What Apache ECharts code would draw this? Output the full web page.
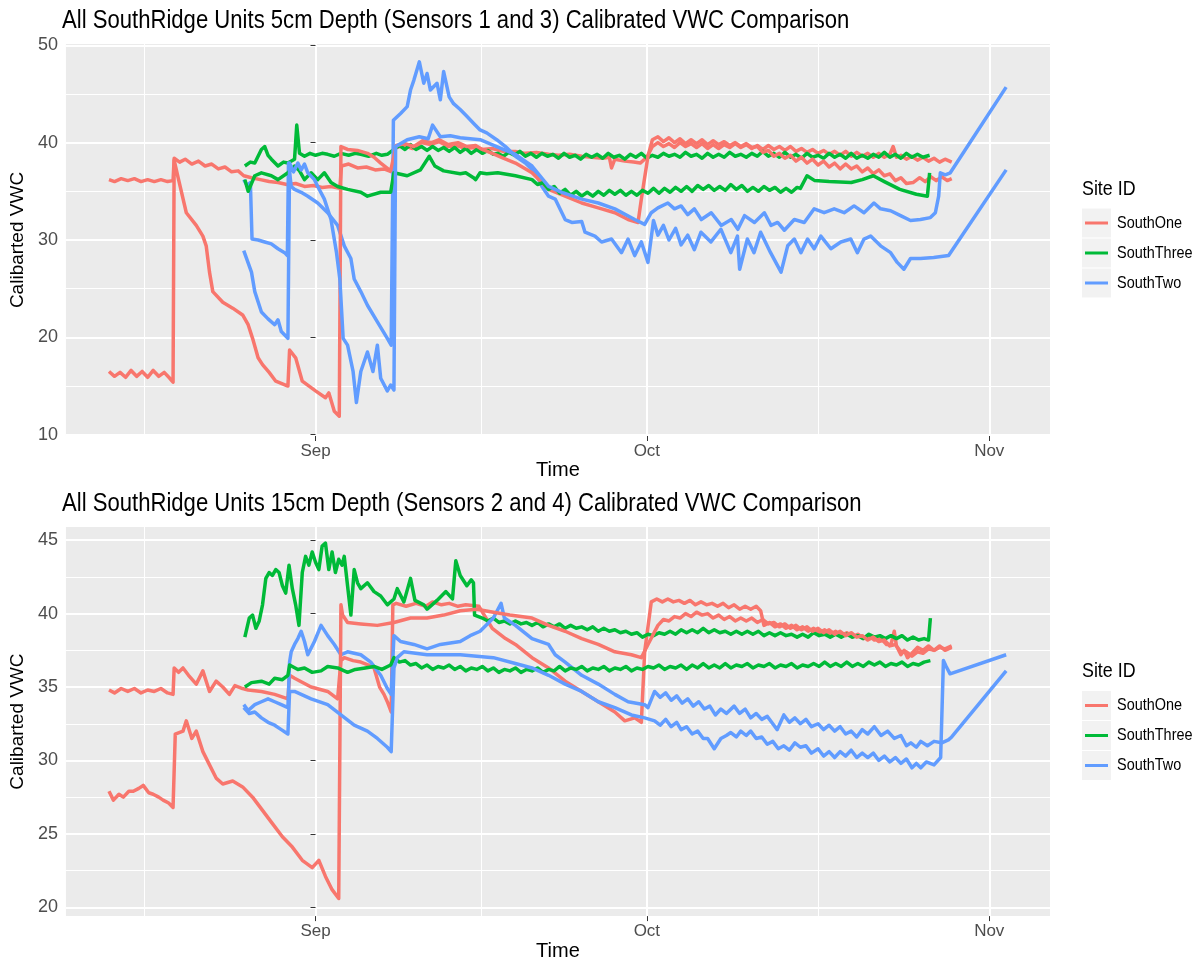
<!DOCTYPE html>
<html>
<head>
<meta charset="utf-8">
<script src="https://cdn.jsdelivr.net/npm/echarts@6/dist/echarts.min.js"></script>
<style>
  html, body { margin: 0; padding: 0; background: #ffffff; }
  #chart { width: 1199px; height: 962px; }
</style>
</head>
<body>
<div id="chart"></div>
<script>
// Calibrated VWC readings for the SouthRidge units.
// Each point is [days since 1 Sep, VWC]; two sensors per site and depth.

// ---- 5 cm depth (sensors 1 and 3) ----
const one5_s1 = [[-18.7,36.2],[-18.2,36.0],[-17.6,36.3],[-17.0,36.1],[-16.4,36.3],[-15.8,36.0],[-15.2,36.2],[-14.6,36.0],[-14.0,36.2],[-13.4,36.0],[-12.9,36.1],
  [-12.8,38.4],[-12.3,38.0],[-11.8,38.3],[-11.2,37.8],[-10.6,38.1],[-10.0,37.6],[-9.4,37.8],[-8.8,37.3],[-8.2,37.5],[-7.6,37.0],[-7.0,37.1],[-6.5,36.6],[-5.8,36.4],[-5.0,36.2],[-4.2,36.0],[-3.4,35.9],[-2.6,35.7],[-1.8,35.8],[-1.0,35.5],[-0.2,35.6],[0.6,35.4],[1.4,35.5],[2.2,35.3],
  [2.35,37.6],[3.0,37.8],[3.8,37.4],[4.6,37.5],[5.4,37.2],[6.2,37.3],[6.9,37.0],
  [7.25,39.5],[8.0,39.7],[8.8,39.4],[9.6,40.0],[10.4,39.8],[11.2,40.1],[12.0,39.6],[12.8,39.7],[13.6,39.4],[14.4,39.5],[15.1,39.3],[16.0,39.4],[17.0,39.1],[18.1,39.1],[19.0,38.9],[20.0,39.0],[21.1,38.8],[22.0,38.7],[23.0,38.8],[24.1,38.6],[25.0,38.5],[26.0,38.4],[26.6,38.5],[26.8,37.4],[27.1,38.3],[28.0,38.1],[28.8,38.0],[29.4,37.9],
  [30.0,38.5],[30.5,39.6],[31.0,40.0],[31.5,39.6],[32.0,39.9],[32.5,39.5],[33.0,40.0],[33.5,39.6],[34.0,39.9],[34.5,39.5],[35.0,39.9],[35.5,39.4],[36.0,39.8],[36.5,39.4],[37.0,39.8],[37.5,39.5],[38.0,39.9],[38.5,39.5],[39.0,39.8],[39.5,39.4],[40.0,39.7],[40.5,39.3],[41.0,39.7],[41.5,39.3],[42.0,39.6],[42.5,39.2],[43.0,39.6],[43.5,39.1],[44.0,39.4],[44.5,39.0],[45.0,39.3],[45.5,38.9],[46.0,39.2],[46.5,38.8],[47.0,39.1],[47.5,38.7],[48.0,39.1],[48.5,38.6],[49.0,39.0],[49.5,38.6],[50.0,38.9],[50.5,38.5],[51.0,38.9],[51.5,38.5],[52.0,38.8],[52.3,39.6],[52.6,38.5],[53.0,38.7],[53.5,38.3],[54.0,38.6],[54.5,38.2],[55.0,38.5],[55.5,38.1],[56.0,38.4],[56.5,38.0],[57.0,38.3],[57.6,38.0]];

const one5_s3 = [[-18.7,16.5],[-18.2,16.0],[-17.7,16.4],[-17.2,15.9],[-16.7,16.6],[-16.2,16.0],[-15.7,16.5],[-15.2,15.9],[-14.7,16.6],[-14.2,16.0],[-13.7,16.4],[-13.2,15.8],[-12.9,15.4],
  [-12.8,38.2],[-12.4,36.2],[-11.7,32.8],[-10.8,31.5],[-10.2,30.4],[-9.9,29.4],[-9.6,26.7],[-9.3,24.7],[-8.4,23.6],[-7.5,23.0],[-6.6,22.3],[-6.1,21.3],[-5.7,19.9],[-5.2,17.9],[-4.8,17.2],[-4.2,16.4],[-3.6,15.5],[-2.5,15.0],[-2.35,18.7],[-1.8,17.9],[-1.2,15.5],[0.0,14.5],[0.9,13.8],[1.2,14.3],[1.7,12.4],[2.15,11.9],
  [2.3,39.6],[2.9,39.3],[3.8,39.2],[4.7,38.9],[5.3,38.5],[5.9,37.9],[6.8,37.1],
  [7.3,39.7],[8.1,39.9],[8.9,39.6],[9.7,40.2],[10.5,40.0],[11.2,40.3],[12.0,39.8],[12.9,40.0],[13.7,39.6],[14.5,39.7],[15.1,39.3],[16.0,38.9],[17.0,38.4],[18.1,37.9],[19.6,36.9],[20.4,36.0],[21.1,35.2],[22.6,34.5],[24.1,33.8],[25.6,33.3],[27.1,32.8],[28.3,32.1],[29.2,31.8],[29.5,34.2],[30.1,38.6],
  [30.5,40.3],[31.0,40.6],[31.5,40.1],[32.0,40.5],[32.5,40.0],[33.0,40.4],[33.5,39.9],[34.0,40.3],[34.5,39.9],[35.0,40.3],[35.5,39.8],[36.0,40.2],[36.5,39.8],[37.0,40.1],[37.5,39.7],[38.0,40.0],[38.5,39.6],[39.0,39.9],[39.5,39.5],[40.0,39.6],[40.5,39.0],[41.0,39.2],[41.5,38.6],[42.0,38.9],[42.5,38.4],[43.0,38.7],[43.5,38.1],[44.0,38.5],[44.5,37.9],[45.0,38.3],[45.5,37.7],[46.0,38.1],[46.5,37.5],[47.0,37.9],[47.5,37.3],[48.0,37.8],[48.5,37.3],[49.0,37.6],[49.5,37.0],[50.0,37.4],[50.5,36.8],[51.0,37.2],[51.5,36.6],[52.0,36.8],[52.5,36.1],[53.0,36.4],[53.5,35.8],[54.1,35.9],[54.7,36.4],[55.2,36.0],[55.7,36.5],[56.2,36.1],[56.7,36.5],[57.2,36.1],[57.6,36.3]];

const three5_s1 = [[-6.4,37.6],[-5.9,38.0],[-5.5,37.9],[-4.9,39.3],[-4.6,39.6],[-4.3,38.7],[-4.0,38.3],[-3.4,37.6],[-2.9,38.0],[-2.5,37.9],[-1.9,38.3],[-1.7,41.8],[-1.45,38.9],[-1.0,38.6],[-0.5,38.9],[0.0,38.7],[0.6,38.9],[1.1,38.8],[1.7,38.6],[2.3,38.9],[3.0,38.7],[3.6,38.9],[4.1,38.8],[4.8,38.6],[5.5,38.9],[6.0,38.7],[6.5,38.8],
  [7.1,39.3],[7.6,39.7],[8.1,39.3],[8.6,39.8],[9.1,39.3],[9.6,39.6],[10.1,39.2],[10.6,39.6],[11.1,39.2],[11.6,39.5],[12.1,39.1],[12.6,39.5],[13.1,39.0],[13.6,39.4],[14.1,38.9],[14.6,39.3],[15.1,38.9],[15.6,39.2],[16.1,38.8],
  [16.5,38.9],[17.0,38.6],[17.5,39.0],[18.0,38.7],[18.5,39.1],[19.0,38.6],[19.5,38.9],[20.0,38.5],[20.5,38.9],[21.0,38.6],[21.5,38.8],[22.0,38.4],[22.5,38.9],[23.0,38.5],[23.5,38.7],[24.0,38.3],[24.5,38.8],[25.0,38.5],[25.5,38.8],[26.0,38.4],[26.5,38.9],[27.0,38.5],[27.5,38.7],[28.0,38.3],[28.5,38.8],[29.0,38.5],[29.5,38.9],[30.0,38.4],[30.5,38.7],[31.0,38.5],[31.5,38.9],[32.0,38.6],[32.5,38.8],[33.0,38.5],[33.5,39.0],[34.0,38.6],[34.5,38.8],[35.0,38.4],[35.5,38.9],[36.0,38.5],[36.5,38.8],[37.0,38.5],[37.5,39.0],[38.0,38.6],[38.5,38.8],[39.0,38.5],[39.5,38.9],[40.0,38.6],[40.5,39.1],[41.0,38.6],[41.5,38.9],[42.0,38.5],[42.5,39.0],[43.0,38.5],[43.5,38.8],[44.0,38.4],[44.5,38.9],[45.0,38.5],[45.5,38.7],[46.0,38.4],[46.5,38.9],[47.0,38.5],[47.5,38.8],[48.0,38.4],[48.5,38.9],[49.0,38.4],[49.5,38.7],[50.0,38.4],[50.5,38.8],[51.0,38.5],[51.5,39.0],[52.0,38.5],[52.5,38.8],[53.0,38.4],[53.5,38.9],[54.0,38.5],[54.5,38.8],[55.0,38.5],[55.6,38.7]];

const three5_s3 = [[-6.4,36.2],[-6.1,35.0],[-5.5,36.6],[-4.9,36.9],[-4.0,36.6],[-3.4,36.2],[-2.5,36.9],[-1.9,37.6],[-1.45,37.1],[-1.0,36.2],[-0.4,36.9],[0.2,36.2],[0.8,36.9],[1.4,35.9],[2.0,35.5],[2.9,35.2],[4.1,34.9],[4.7,34.5],[5.9,34.9],[6.8,34.9],
  [7.1,36.9],[8.3,36.6],[9.5,37.2],[10.3,38.6],[10.8,37.6],[11.6,37.1],[13.1,36.8],[13.6,36.9],[14.3,36.4],[14.5,36.2],[14.9,36.9],[15.5,36.8],[16.5,36.9],[18.1,36.6],
  [19.6,36.2],[20.1,35.7],[20.6,35.9],[21.1,35.2],[21.6,35.5],[22.1,34.8],[22.6,35.2],[23.1,34.6],[23.6,35.0],[24.1,34.5],[24.6,34.9],[25.1,34.5],[25.6,35.0],[26.1,34.6],[26.6,35.1],[27.1,34.7],[27.6,35.1],[28.1,34.6],[28.6,35.0],[29.1,34.6],[29.6,35.1],[30.1,34.8],[30.6,35.3],[31.1,34.8],[31.6,35.3],[32.1,34.9],[32.6,35.4],[33.1,35.0],[33.6,35.5],[34.1,35.0],[34.6,35.6],[35.1,35.2],[35.6,35.6],[36.1,35.1],[36.6,35.5],[37.1,35.1],[37.6,35.7],[38.1,35.2],[38.6,35.6],[39.1,35.0],[39.6,35.4],[40.1,35.0],[40.6,35.5],[41.1,35.1],[41.6,35.4],[42.1,34.9],[42.6,35.3],[43.1,34.9],[43.6,35.4],[43.9,35.3],
  [44.5,36.6],[45.2,36.1],[46.5,36.0],[48.5,35.9],[49.5,36.2],[50.5,36.6],[51.5,36.0],[52.9,35.2],[54.4,34.7],[55.4,34.5],[55.6,36.9]];

const two5_s1 = [[-6.5,36.2],[-6.2,35.6],[-5.9,35.9],[-5.75,30.1],[-5.2,30.0],[-4.6,29.8],[-4.0,29.6],[-3.4,29.1],[-2.8,28.7],[-2.55,28.4],
  [-2.45,37.9],[-2.2,35.5],[-1.9,35.2],[-1.3,34.9],[-0.7,34.5],[0.2,33.8],[1.1,32.8],[2.0,31.5],[2.6,29.4],[3.2,28.1],[3.5,26.0],[4.1,24.7],[4.7,23.3],[5.6,21.6],[6.5,19.9],[6.85,19.2],
  [7.05,42.3],[7.7,43.0],[8.3,43.7],[8.6,45.4],[8.9,46.4],[9.4,48.3],[9.8,46.1],[10.1,47.1],[10.4,45.4],[11.0,46.1],[11.3,44.4],[11.6,47.3],[12.1,44.7],[12.5,44.0],[13.1,43.4],[13.7,42.7],[14.3,42.0],[14.9,41.3],[15.5,41.0],[16.4,40.3],[17.2,39.6],[18.1,38.6],[19.0,37.9],[19.9,36.9],[20.5,35.5],[21.1,34.5],[21.7,34.2],[22.6,32.1],[23.2,31.8],[24.1,31.9],[24.4,30.8],[25.3,30.4],[25.9,29.8],[26.8,30.1],[27.7,28.7],[28.3,30.1],[28.9,28.4],[29.5,29.8],[30.1,27.7],
  [30.6,32.0],[31.0,30.5],[31.5,31.5],[32.0,30.0],[32.6,31.2],[33.1,29.5],[33.7,30.5],[34.3,29.0],[34.9,30.8],[35.8,29.8],[36.7,31.1],[37.6,28.7],[38.2,30.4],[38.4,27.0],[39.1,30.1],[39.7,28.7],[40.3,30.8],[41.2,28.7],[42.15,26.7],[42.75,29.4],[43.35,30.1],[43.95,28.7],[44.55,30.1],[45.15,29.1],[45.75,30.4],[46.66,29.1],[47.56,29.8],[48.46,30.1],[49.06,28.7],[49.66,30.1],[50.26,30.4],[51.16,29.4],[52.07,28.7],[52.67,27.7],[53.27,27.0],[53.87,28.1],[54.77,28.1],[55.97,28.2],[57.32,28.4],[62.53,37.2]];

const two5_s3 = [[-6.5,28.9],[-5.8,26.7],[-5.5,24.7],[-4.9,22.6],[-4.3,21.9],[-3.7,21.3],[-3.4,21.8],[-3.1,20.6],[-2.5,19.9],
  [-2.35,37.9],[-2.0,37.0],[-1.6,37.9],[-1.3,37.2],[-1.0,37.8],[-0.7,36.9],[-0.1,36.2],[0.2,35.5],[0.8,34.2],[1.4,32.1],[1.9,28.7],[2.2,26.0],[2.5,19.9],[2.9,19.2],[3.4,16.5],[3.7,13.3],[4.1,16.5],[4.7,18.5],[5.2,16.5],[5.6,19.2],[5.9,15.8],[6.5,14.5],[6.8,15.1],[7.1,14.6],
  [7.25,39.6],[8.3,40.3],[9.4,40.6],[10.2,40.4],[10.6,41.8],[11.3,40.6],[12.2,40.7],[13.1,40.5],[14.0,40.4],[14.9,40.3],[16.4,39.6],[18.1,38.8],[19.6,37.6],[21.1,35.5],[22.3,34.9],[24.1,34.2],[25.6,33.8],[27.1,33.2],[28.9,32.1],[29.8,31.6],[30.4,32.8],[31.0,33.3],[31.9,33.8],[32.5,33.2],[33.1,33.5],[33.7,32.6],[34.3,33.2],[34.93,32.1],[35.83,32.8],[36.73,31.5],[37.64,32.1],[38.24,31.1],[38.84,32.5],[39.74,31.8],[40.64,32.8],[41.24,31.5],[41.84,31.8],[42.45,31.0],[43.35,32.1],[44.25,31.8],[45.15,33.2],[46.05,32.8],[46.96,33.2],[47.86,32.8],[48.76,33.5],[49.66,32.8],[50.56,33.8],[51.16,33.2],[52.07,33.0],[52.97,32.5],[53.87,32.0],[54.77,32.1],[55.67,32.3],[56.12,32.8],[56.42,34.5],[56.57,36.9],[57.02,36.7],[57.47,36.9],[62.53,45.7]];

// ---- 15 cm depth (sensors 2 and 4) ----
const one15_s2 = [[-18.7,34.8],[-18.2,34.6],[-17.6,34.9],[-17.0,34.7],[-16.4,34.9],[-15.8,34.6],[-15.2,34.8],[-14.6,34.7],[-14.0,34.9],[-13.4,34.6],[-12.9,34.5],
  [-12.8,36.3],[-12.4,36.0],[-12.0,36.3],[-11.5,35.8],[-10.8,35.2],[-10.2,36.1],[-9.6,34.7],[-9.0,35.4],[-8.4,35.0],[-7.8,34.5],[-7.3,35.1],[-6.6,34.9],[-6.1,34.8],[-4.9,34.7],[-3.7,34.5],[-2.5,34.2],
  [-2.35,35.8],[-1.9,35.6],[-0.4,35.0],[1.1,34.7],[2.0,34.2],
  [2.3,36.8],[2.6,37.0],[3.4,36.8],[4.1,36.7],[4.8,36.5],[5.3,36.3],[5.8,35.0],[6.2,34.5],[6.5,34.0],[6.85,33.3],
  [7.0,40.6],[7.3,40.7],[8.2,40.5],[9.1,40.7],[10.0,40.5],[10.6,40.8],[11.4,40.6],[12.1,40.7],[12.9,40.5],[13.6,40.6],[14.8,40.5],[16.0,39.0],[17.2,38.3],[18.1,37.9],[19.6,37.0],[21.1,36.3],[22.6,35.4],[24.1,34.7],[25.6,34.0],[27.1,33.3],[28.0,32.7],[28.9,32.9],[29.5,32.6],[29.8,37.4],
  [30.4,40.8],[30.9,41.0],[31.4,40.8],[31.9,41.0],[32.4,40.8],[32.9,40.9],[33.4,40.7],[33.9,40.9],[34.4,40.6],[34.9,40.8],[35.4,40.6],[35.9,40.7],[36.4,40.5],[36.9,40.7],[37.4,40.4],[37.9,40.6],[38.4,40.3],[38.9,40.5],[39.4,40.3],[39.9,40.5],[40.3,40.2],[40.6,39.2],[41.1,39.4],[41.6,39.1],[42.1,39.3],[42.6,39.0],[43.1,39.2],[43.6,38.9],[44.1,39.1],[44.6,38.8],[45.1,39.0],[45.6,38.7],[46.1,38.9],[46.6,38.6],[47.1,38.8],[47.6,38.5],[48.1,38.7],[48.6,38.4],[49.1,38.6],[49.6,38.3],[50.1,38.5],[50.6,38.2],[51.2,38.3],[51.7,37.9],[52.1,37.9],[52.4,38.8],[52.6,37.8],[53.0,37.2],[53.3,37.5],[53.6,37.0],[54.0,37.3],[54.5,37.7],[55.0,37.5],[55.5,37.8],[56.0,37.5],[56.5,37.8],[57.0,37.5],[57.6,37.7]];

const one15_s4 = [[-18.7,27.9],[-18.3,27.3],[-17.8,27.7],[-17.4,27.5],[-16.9,27.9],[-16.5,27.9],[-16.0,28.1],[-15.6,28.3],[-15.1,27.8],[-14.7,27.7],[-14.2,27.5],[-13.8,27.3],[-13.3,27.1],[-12.9,26.8],
  [-12.7,31.8],[-12.0,32.0],[-11.7,32.7],[-11.2,31.5],[-10.8,32.0],[-10.2,30.6],[-9.6,29.7],[-9.0,28.8],[-8.4,28.4],[-7.5,28.6],[-6.6,28.2],[-5.7,27.5],[-4.8,26.6],[-3.9,25.7],[-3.0,24.8],[-2.1,24.1],[-1.2,23.2],[-0.3,22.7],[0.3,23.2],[0.9,22.1],[1.5,21.2],[2.1,20.6],
  [2.3,40.6],[2.45,39.9],[2.9,39.4],[4.1,39.3],[5.6,39.2],[7.1,39.4],[8.6,39.7],[10.1,39.7],[11.6,39.9],[13.1,40.2],[14.6,40.3],[16.1,40.1],[17.6,39.9],[19.6,39.7],[21.1,39.2],[22.6,38.8],[24.1,38.3],[25.6,37.9],[27.1,37.4],[28.6,37.2],[29.5,37.0],[30.1,37.9],
  [31.0,39.2],[31.5,39.6],[32.0,39.5],[32.5,39.8],[33.0,39.7],[33.5,40.0],[34.0,39.8],[34.5,40.1],[35.0,39.9],[35.5,40.0],[36.0,39.7],[36.5,39.9],[37.0,39.6],[37.5,39.8],[38.0,39.5],[38.5,39.7],[39.0,39.5],[39.5,39.7],[40.0,39.4],[40.5,39.6],[41.0,39.3],[41.5,39.4],[42.0,39.1],[42.5,39.3],[43.0,39.0],[43.5,39.2],[44.0,38.9],[44.5,39.1],[45.0,38.8],[45.5,39.0],[46.0,38.7],[46.5,38.9],[47.0,38.6],[47.5,38.8],[48.0,38.5],[48.5,38.7],[49.0,38.4],[49.5,38.5],[50.0,38.2],[50.5,38.4],[51.0,38.1],[51.5,38.2],[52.0,37.8],[52.5,37.9],[53.0,37.4],[53.5,37.4],[54.0,37.1],[54.5,37.4],[55.0,37.3],[55.5,37.6],[56.0,37.5],[56.5,37.7],[57.0,37.6],[57.6,37.8]];

const three15_s2 = [[-6.4,38.4],[-6.0,39.7],[-5.7,39.9],[-5.4,39.0],[-5.1,39.5],[-4.8,40.6],[-4.5,42.4],[-4.2,42.8],[-3.9,42.6],[-3.6,43.0],[-3.3,42.8],[-3.0,41.9],[-2.7,41.4],[-2.4,43.3],[-2.1,41.7],[-1.8,40.6],[-1.5,39.2],[-1.2,42.8],[-0.9,43.9],[-0.6,43.3],[-0.3,44.2],[0.0,43.5],[0.3,43.0],[0.6,44.6],[0.9,44.8],[1.2,43.0],[1.5,44.2],[1.8,42.8],[2.1,43.7],[2.4,43.3],[2.6,43.9],[2.9,41.9],[3.2,39.9],[3.5,43.0],[3.8,42.1],[4.1,41.7],[4.7,42.1],[5.3,41.5],[5.9,41.2],[6.5,40.6],
  [7.1,41.0],[7.4,41.7],[8.0,40.8],[8.6,42.4],[9.0,40.9],[9.8,40.6],[10.1,40.3],[11.0,40.9],[11.8,41.5],[12.4,41.0],[12.7,43.6],[13.1,42.6],[13.7,41.9],[14.1,42.3],[14.3,42.1],[14.4,39.9],
  [15.1,39.7],[15.6,39.5],[16.1,39.7],[16.6,39.4],[17.1,39.5],[17.6,39.3],[18.1,39.5],[18.6,39.3],[19.1,39.4],[19.6,39.2],[20.1,39.4],[20.6,39.1],[21.1,39.3],[21.6,39.1],[22.1,39.3],[22.6,39.0],[23.1,39.2],[23.6,39.0],[24.1,39.1],[24.6,38.9],[25.1,39.1],[25.6,38.8],[26.1,39.0],[26.6,38.8],[27.1,38.9],[27.6,38.7],[28.1,38.8],[28.6,38.6],[29.1,38.7],[29.6,38.4],[30.1,38.6],[30.6,38.5],[31.1,38.7],[31.6,38.6],[32.1,38.8],[32.6,38.6],[33.1,38.9],[33.6,38.7],[34.1,38.9],[34.6,38.7],[35.1,39.0],[35.6,38.7],[36.1,38.9],[36.6,38.7],[37.1,38.8],[37.6,38.6],[38.1,38.8],[38.6,38.6],[39.1,38.8],[39.6,38.6],[40.1,38.8],[40.6,38.5],[41.1,38.7],[41.6,38.5],[42.1,38.7],[42.6,38.5],[43.1,38.6],[43.6,38.4],[44.1,38.6],[44.6,38.4],[45.1,38.7],[45.6,38.5],[46.1,38.6],[46.6,38.4],[47.1,38.6],[47.6,38.4],[48.1,38.6],[48.6,38.4],[49.1,38.5],[49.6,38.3],[50.1,38.6],[50.6,38.4],[51.1,38.5],[51.6,38.3],[52.1,38.5],[52.6,38.3],[53.1,38.5],[53.6,38.2],[54.1,38.4],[54.6,38.2],[55.1,38.3],[55.5,38.2],[55.67,39.7]];

const three15_s4 = [[-6.4,35.0],[-5.8,35.3],[-4.9,35.4],[-4.2,35.2],[-3.7,35.6],[-3.0,35.5],[-2.5,35.8],[-2.35,36.5],[-1.6,36.2],[-1.0,36.3],[-0.3,36.0],[0.5,36.1],[1.1,36.4],[2.0,36.3],[2.9,36.0],[3.6,36.2],[4.5,36.3],[5.3,36.4],[6.0,36.2],[6.8,36.5],
  [7.1,37.0],[7.6,36.7],[8.1,36.8],[8.6,36.5],[9.1,36.6],[9.6,36.3],[10.1,36.5],[10.6,36.2],[11.1,36.4],[11.6,36.3],[12.1,36.5],[12.6,36.2],[13.1,36.4],[13.6,36.1],[14.1,36.3],[14.6,36.2],[15.1,36.4],[15.6,36.1],[16.1,36.3],[16.6,36.0],[17.1,36.2],[17.6,36.1],[18.1,36.3],[18.6,36.0],[19.1,36.2],[19.6,36.1],[20.1,36.3],[20.6,36.0],[21.1,36.2],[21.6,36.1],[22.1,36.4],[22.6,36.1],[23.1,36.3],[23.6,36.2],[24.1,36.4],[24.6,36.1],[25.1,36.3],[25.6,36.2],[26.1,36.4],[26.6,36.1],[27.1,36.3],[27.6,36.2],[28.1,36.4],[28.6,36.1],[29.1,36.3],[29.6,36.2],[30.1,36.4],[30.6,36.3],[31.1,36.5],[31.6,36.2],[32.1,36.4],[32.6,36.3],[33.1,36.5],[33.6,36.2],[34.1,36.5],[34.6,36.3],[35.1,36.6],[35.6,36.3],[36.1,36.5],[36.6,36.3],[37.1,36.6],[37.6,36.3],[38.1,36.5],[38.6,36.4],[39.1,36.6],[39.6,36.3],[40.1,36.5],[40.6,36.4],[41.1,36.6],[41.6,36.3],[42.1,36.5],[42.6,36.4],[43.1,36.6],[43.6,36.3],[44.1,36.5],[44.6,36.4],[45.1,36.6],[45.6,36.4],[46.1,36.7],[46.6,36.4],[47.1,36.6],[47.6,36.4],[48.1,36.7],[48.6,36.4],[49.1,36.6],[49.6,36.4],[50.1,36.7],[50.6,36.5],[51.1,36.7],[51.6,36.4],[52.1,36.6],[52.6,36.5],[53.1,36.7],[53.6,36.4],[54.1,36.6],[54.6,36.5],[55.1,36.7],[55.67,36.8]];

const two15_s2 = [[-6.5,33.8],[-6.1,33.4],[-5.5,33.8],[-4.9,34.0],[-4.3,34.2],[-3.7,34.0],[-3.1,33.8],[-2.5,33.6],
  [-2.35,36.7],[-2.2,37.4],[-1.9,37.9],[-1.6,38.3],[-1.3,38.8],[-1.0,38.1],[-0.7,37.2],[-0.1,38.1],[0.5,39.2],[1.1,38.5],[1.7,37.9],[2.3,37.2],[2.9,37.4],[4.1,37.2],[5.0,36.7],[5.9,35.8],[6.5,34.9],[6.85,34.5],
  [7.1,38.5],[7.7,38.1],[8.9,37.9],[10.1,37.6],[11.3,37.9],[13.1,38.1],[14.0,38.5],[14.9,38.8],[16.1,39.7],[16.8,40.7],[17.1,39.7],[18.1,39.2],[19.6,38.3],[21.1,37.9],[21.7,37.2],[22.6,36.7],[24.1,35.8],[25.6,35.2],[27.1,34.5],[28.3,34.0],[29.8,33.8],[30.1,33.6],
  [30.7,34.7],[31.2,34.3],[31.7,34.6],[32.2,34.1],[32.7,34.4],[33.2,33.9],[33.7,34.2],[34.2,33.7],[34.7,34.0],[35.2,33.5],[35.7,33.7],[36.2,33.1],[36.7,33.5],[37.2,33.2],[37.9,33.7],[38.4,33.2],[38.9,33.5],[39.4,32.9],[39.9,33.2],[40.4,32.8],[40.9,33.0],[41.4,32.5],[41.8,32.1],[42.4,33.1],[42.9,32.6],[43.4,32.9],[43.9,32.5],[44.4,32.8],[44.9,32.3],[45.5,32.5],[46.0,32.1],[46.5,32.4],[47.0,32.0],[47.5,32.3],[48.0,31.8],[48.5,32.0],[49.0,31.6],[49.5,32.1],[50.0,31.8],[50.6,32.3],[51.2,31.7],[51.8,32.0],[52.4,31.5],[53.0,31.7],[53.5,31.0],[53.9,31.2],[54.4,30.9],[54.8,31.3],[55.4,31.0],[56.0,31.3],[56.7,31.2],[57.3,31.4],[57.6,31.6],[62.53,36.1]];

const two15_s4 = [[-6.5,33.6],[-6.0,33.2],[-5.5,33.3],[-4.9,32.9],[-4.3,32.6],[-3.7,32.4],[-3.1,32.1],[-2.5,31.8],
  [-2.35,34.7],[-1.9,34.7],[-0.4,34.2],[1.1,33.8],[2.3,33.1],[3.5,32.4],[4.7,32.0],[5.6,31.5],[6.5,30.9],[6.85,30.6],
  [7.1,36.3],[7.4,37.0],[8.0,37.4],[10.1,37.2],[13.1,37.2],[16.1,37.0],[18.1,36.6],[19.6,36.3],[21.1,35.8],[22.6,35.2],[24.1,34.7],[25.6,34.0],[27.1,33.6],[28.6,33.1],[29.8,32.9],
  [30.7,32.7],[31.2,32.4],[31.7,32.8],[32.2,32.3],[32.7,32.6],[33.1,32.1],[33.6,32.3],[34.1,31.8],[34.6,32.0],[35.1,31.5],[35.5,31.5],[36.1,30.8],[36.7,31.5],[37.2,31.7],[37.6,31.9],[38.1,31.6],[38.5,32.0],[39.0,31.7],[39.4,32.0],[39.9,31.5],[40.4,31.6],[40.9,31.1],[41.4,31.3],[41.9,30.8],[42.4,31.0],[42.9,30.7],[43.4,31.2],[43.9,30.9],[44.4,31.0],[44.9,30.5],[45.5,30.8],[46.0,30.3],[46.5,30.6],[47.0,30.2],[47.5,30.6],[48.0,30.3],[48.5,30.7],[49.0,30.2],[49.5,30.5],[50.0,30.2],[50.5,30.5],[51.0,30.0],[51.5,30.3],[52.0,29.9],[52.5,30.2],[53.0,29.8],[53.5,30.1],[54.0,29.5],[54.4,29.8],[54.8,29.5],[55.3,29.9],[56.0,29.7],[56.6,30.2],[56.75,30.1],[56.85,36.8],[57.1,36.4],[57.45,35.9],[62.53,37.2]];

// ---- axes (x in days since 1 Sep) ----
const monthTickDays = [0, 30, 61];          // 1 Sep, 1 Oct, 1 Nov
const monthTickLabels = ['Sep', 'Oct', 'Nov'];
const monthMinorDays = [-15.5, 15, 45.5];   // mid-month grid lines
const xRangeDays = [-22.6, 66.5];

const y5Ticks = [10, 20, 30, 40, 50];
const y5Minor = [15, 25, 35, 45];
const y5Range = [9.87, 50.13];

const y15Ticks = [20, 25, 30, 35, 40, 45];
const y15Minor = [22.5, 27.5, 32.5, 37.5, 42.5];
const y15Range = [19.4, 45.9];

const siteNames = ['SouthOne', 'SouthThree', 'SouthTwo'];
const siteColors = ['#F8766D', '#00BA38', '#619CFF'];

const titles = [
  'All SouthRidge Units 5cm Depth (Sensors 1 and 3) Calibrated VWC Comparison',
  'All SouthRidge Units 15cm Depth (Sensors 2 and 4) Calibrated VWC Comparison'
];

const FONT = "'Liberation Sans', Arial, Helvetica, sans-serif";
const NARROW = 0.85;   // horizontal squeeze for a condensed look

const panels = [
  { top: 44, height: 392, yRange: y5Range, yTicks: y5Ticks, yMinor: y5Minor,
    lines: [[one5_s1, 0], [three5_s1, 1], [two5_s1, 2], [one5_s3, 0], [three5_s3, 1], [two5_s3, 2]] },
  { top: 527, height: 391, yRange: y15Range, yTicks: y15Ticks, yMinor: y15Minor,
    lines: [[one15_s2, 0], [three15_s2, 1], [two15_s2, 2], [one15_s4, 0], [three15_s4, 1], [two15_s4, 2]] }
];

const grid = [], xAxis = [], yAxis = [], series = [], graphic = [];

panels.forEach((p, gi) => {
  grid.push({ left: 62, top: p.top, width: 988, height: p.height, show: true,
              backgroundColor: '#EBEBEB', borderWidth: 0 });

  // major month lines with tick labels
  xAxis.push({
    type: 'value', gridIndex: gi, min: xRangeDays[0], max: xRangeDays[1],
    name: 'Time', nameLocation: 'middle', nameGap: 24,
    nameTextStyle: { color: '#000', fontSize: 20, fontFamily: FONT },
    axisLine: { show: false },
    axisTick: { show: true, customValues: monthTickDays, length: 5, lineStyle: { color: '#333333', width: 1 } },
    axisLabel: { customValues: monthTickDays, color: '#4D4D4D', fontSize: 17, fontFamily: FONT, margin: 7,
                 formatter: v => monthTickLabels[monthTickDays.indexOf(v)] ?? '' },
    splitLine: { show: true, lineStyle: { color: '#FFFFFF', width: 2 } }
  });
  // mid-month minor lines
  xAxis.push({
    type: 'value', gridIndex: gi, min: xRangeDays[0], max: xRangeDays[1],
    axisLine: { show: false },
    axisTick: { show: false, customValues: monthMinorDays },
    axisLabel: { show: false, customValues: monthMinorDays },
    splitLine: { show: true, lineStyle: { color: '#FFFFFF', width: 1 } }
  });

  yAxis.push({
    type: 'value', gridIndex: gi, min: p.yRange[0], max: p.yRange[1],
    name: 'Calibarted VWC', nameLocation: 'middle', nameGap: 30,
    nameTextStyle: { color: '#000', fontSize: 19, fontFamily: FONT },
    axisLine: { show: false },
    axisTick: { show: true, customValues: p.yTicks, length: 5, lineStyle: { color: '#333333', width: 1 } },
    axisLabel: { customValues: p.yTicks, color: '#4D4D4D', fontSize: 18, fontFamily: FONT, margin: 8 },
    splitLine: { show: true, lineStyle: { color: '#FFFFFF', width: 2 } }
  });
  yAxis.push({
    type: 'value', gridIndex: gi, min: p.yRange[0], max: p.yRange[1],
    axisLine: { show: false },
    axisTick: { show: false, customValues: p.yMinor },
    axisLabel: { show: false, customValues: p.yMinor },
    splitLine: { show: true, lineStyle: { color: '#FFFFFF', width: 1 } }
  });

  p.lines.forEach(([pts, site]) => {
    series.push({
      type: 'line', name: siteNames[site], xAxisIndex: gi * 2, yAxisIndex: gi * 2,
      data: pts,
      showSymbol: false, symbol: 'none', clip: true,
      lineStyle: { color: siteColors[site], width: 3.5, join: 'round' },
      itemStyle: { color: siteColors[site] },
      emphasis: { disabled: true }
    });
  });

  // panel title
  graphic.push({ type: 'text', x: 62, y: p.top - 23, scaleX: NARROW,
                 style: { text: titles[gi], fill: '#000', font: '26px ' + FONT,
                          textVerticalAlign: 'middle' } });

  // legend block to the right of each panel
  const midY = p.top + p.height / 2;
  const rowGap = 30;
  const firstRow = midY - 17;
  graphic.push({ type: 'text', x: 1082, y: firstRow - 34, scaleX: NARROW,
                 style: { text: 'Site ID', fill: '#000', font: '21px ' + FONT, textVerticalAlign: 'middle' } });
  siteNames.forEach((name, i) => {
    const cy = firstRow + i * rowGap;
    graphic.push({ type: 'rect', shape: { x: 1082, y: cy - 14.5, width: 29, height: 29 },
                   style: { fill: '#F2F2F2' } });
    graphic.push({ type: 'line', shape: { x1: 1085, y1: cy, x2: 1108, y2: cy },
                   style: { stroke: siteColors[i], lineWidth: 3 } });
    graphic.push({ type: 'text', x: 1117, y: cy, scaleX: NARROW,
                   style: { text: name, fill: '#000', font: '17px ' + FONT, textVerticalAlign: 'middle' } });
  });
});

const chart = echarts.init(document.getElementById('chart'), null, { renderer: 'canvas' });
chart.setOption({
  animation: false,
  backgroundColor: '#FFFFFF',
  grid, xAxis, yAxis, series, graphic,
  tooltip: { show: false }
});
</script>
</body>
</html>
